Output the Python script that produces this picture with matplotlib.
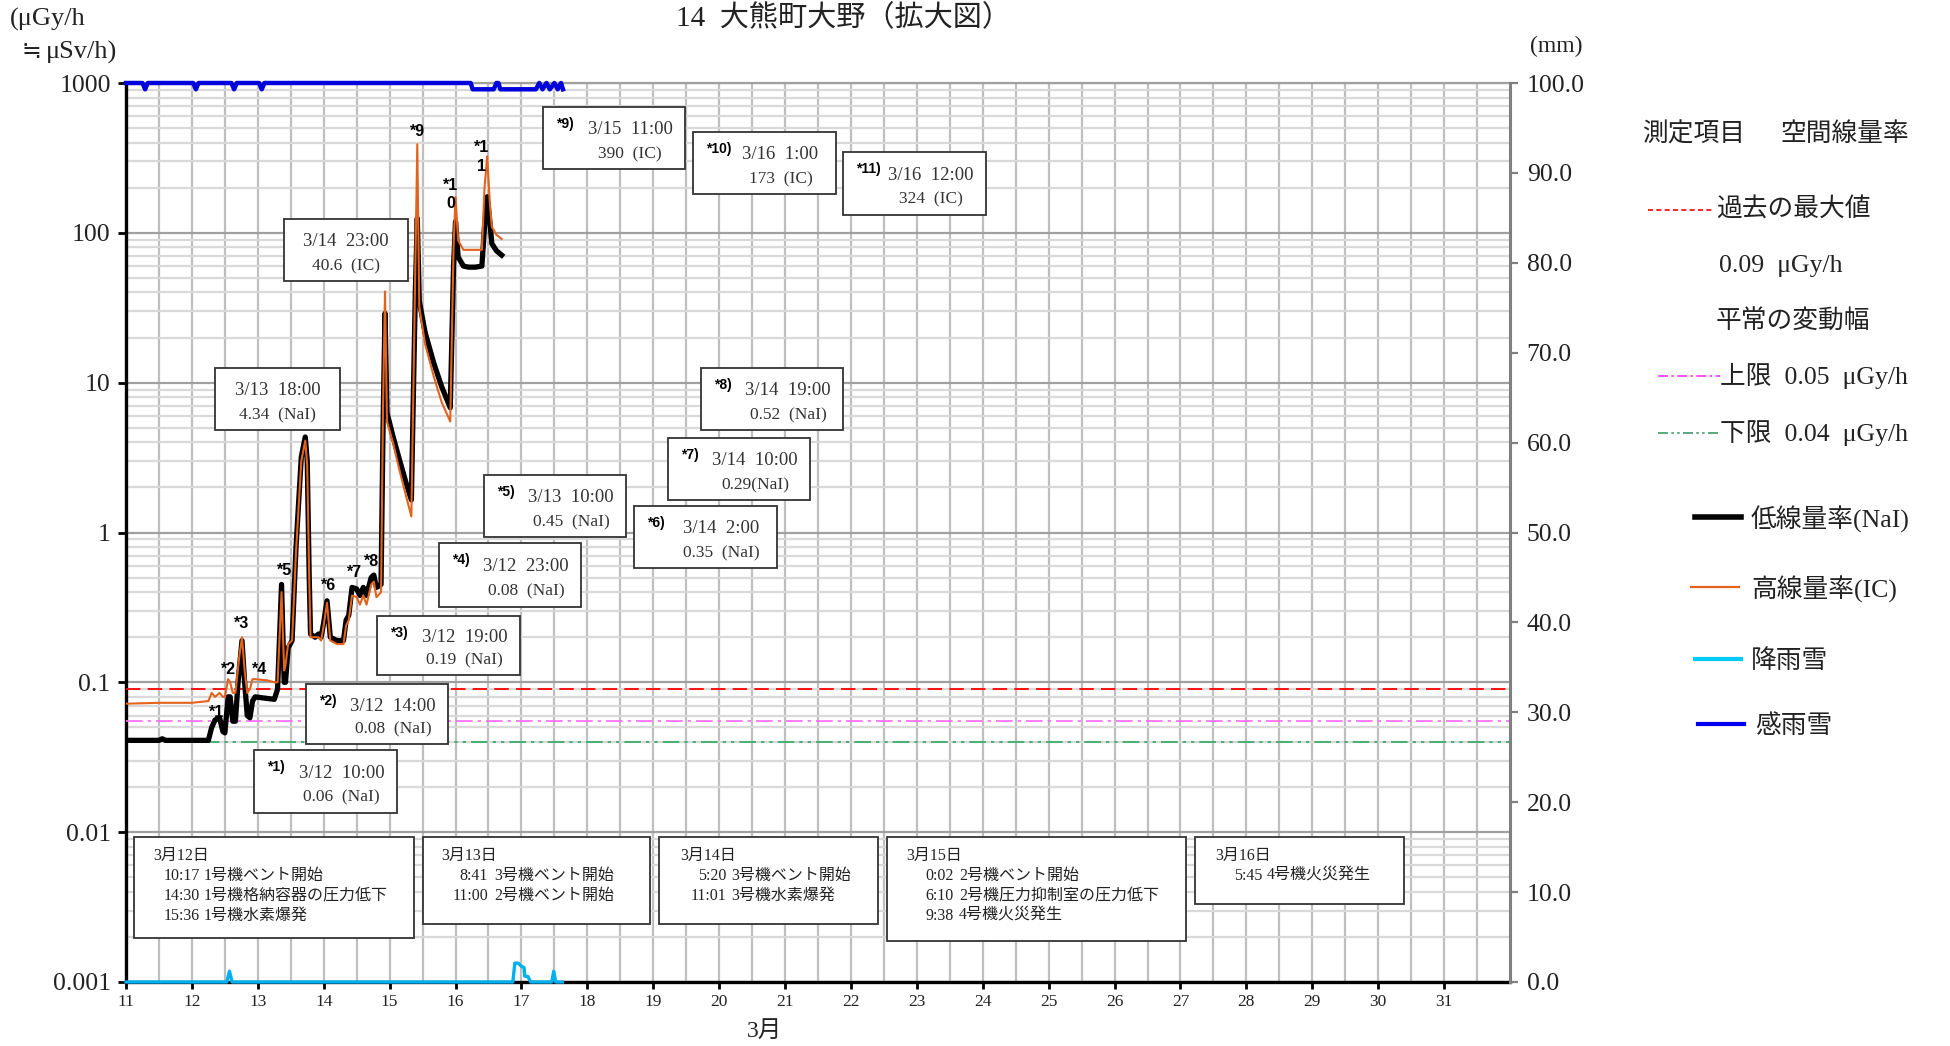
import numpy as np
import matplotlib
matplotlib.use("Agg")
import matplotlib.pyplot as plt
from matplotlib.patches import Rectangle
from matplotlib.lines import Line2D
from matplotlib.ticker import LogLocator, NullFormatter

plt.rcParams['font.family'] = ['Liberation Serif', 'Noto Sans CJK JP']
plt.rcParams['axes.unicode_minus'] = False

W, H = 1950, 1046

# ---- data (day of March) ----
nai_t = [11.0, 11.5, 11.55, 11.6, 12.25, 12.3, 12.35, 12.42, 12.47, 12.5, 12.55, 12.58,
         12.62, 12.66, 12.7, 12.76, 12.8, 12.84, 12.88, 12.92, 12.96, 13.05, 13.15, 13.25,
         13.3, 13.36, 13.4, 13.42, 13.46, 13.52, 13.58, 13.66, 13.72, 13.75, 13.78, 13.8,
         13.87, 13.92, 13.96, 14.0, 14.05, 14.1, 14.2, 14.3, 14.34, 14.38, 14.43, 14.5,
         14.55, 14.6, 14.65, 14.72, 14.76, 14.8, 14.87, 14.9, 14.93, 14.96, 15.05, 15.15,
         15.25, 15.33, 15.39, 15.42, 15.45, 15.54, 15.67, 15.79, 15.92, 15.97, 16.0, 16.04,
         16.12, 16.2, 16.3, 16.4, 16.44, 16.48, 16.52, 16.55, 16.62, 16.7]
nai_v = [0.041, 0.041, 0.042, 0.041, 0.041, 0.05, 0.056, 0.058, 0.047, 0.046, 0.08, 0.08,
         0.055, 0.055, 0.1, 0.19, 0.1, 0.06, 0.058, 0.075, 0.08, 0.079, 0.078, 0.077,
         0.09, 0.45, 0.1, 0.1, 0.17, 0.19, 0.8, 3.2, 4.34, 3.0, 0.5, 0.21,
         0.2, 0.21, 0.2, 0.25, 0.35, 0.2, 0.19, 0.19, 0.26, 0.28, 0.43, 0.42,
         0.38, 0.43, 0.38, 0.5, 0.52, 0.43, 0.45, 5.0, 29.0, 6.3, 4.4, 3.05,
         2.14, 1.65, 40.0, 125.0, 35.0, 21.5, 13.5, 9.4, 6.8, 60.0, 119.0, 69.0,
         60.0, 59.0, 59.0, 60.0, 110.0, 174.0, 120.0, 85.0, 76.0, 71.0]

ic_t = [11.0, 11.5, 12.0, 12.25, 12.3, 12.35, 12.42, 12.47, 12.5, 12.55, 12.58, 12.62,
        12.66, 12.72, 12.76, 12.8, 12.84, 12.88, 12.92, 12.96, 13.05, 13.15, 13.25, 13.3,
        13.36, 13.4, 13.42, 13.46, 13.52, 13.58, 13.66, 13.72, 13.75, 13.78, 13.8, 13.87,
        13.92, 13.96, 14.0, 14.05, 14.1, 14.2, 14.3, 14.34, 14.38, 14.43, 14.5, 14.55,
        14.6, 14.65, 14.72, 14.76, 14.8, 14.87, 14.9, 14.93, 14.96, 15.05, 15.15, 15.25,
        15.33, 15.39, 15.42, 15.45, 15.54, 15.67, 15.79, 15.92, 15.97, 16.0, 16.04, 16.12,
        16.2, 16.3, 16.4, 16.44, 16.48, 16.52, 16.55, 16.62, 16.7]
ic_v = [0.072, 0.073, 0.073, 0.075, 0.085, 0.08, 0.085, 0.08, 0.08, 0.105, 0.1, 0.085,
        0.085, 0.15, 0.2, 0.12, 0.085, 0.09, 0.105, 0.105, 0.104, 0.103, 0.1, 0.1,
        0.4, 0.12, 0.13, 0.18, 0.19, 0.75, 3.0, 4.1, 2.8, 0.5, 0.2, 0.2,
        0.2, 0.19, 0.24, 0.34, 0.19, 0.18, 0.18, 0.24, 0.26, 0.38, 0.37, 0.33,
        0.38, 0.33, 0.45, 0.47, 0.37, 0.4, 7.0, 40.6, 5.5, 4.0, 2.6, 1.75,
        1.28, 60.0, 390.0, 32.0, 18.0, 11.0, 7.4, 5.5, 80.0, 173.0, 89.0, 77.0,
        77.0, 77.0, 77.0, 200.0, 324.0, 160.0, 110.0, 97.0, 91.0]

rain_t = [11.0, 12.53, 12.57, 12.61, 16.87, 16.9, 16.95, 17.0, 17.04, 17.05, 17.1, 17.14,
          17.46, 17.49, 17.52, 17.62]
rain_mm = [0, 0, 1.2, 0, 0, 2.1, 2.1, 1.75, 1.6, 0.65, 0.6, 0,
           0, 1.2, 0, 0]

sense_t = [11.0, 11.25, 11.29, 11.33, 12.02, 12.06, 12.1, 12.6, 12.64, 12.68, 13.02, 13.06,
           13.1, 16.23, 16.26, 16.58, 16.62, 16.65, 16.68, 17.22, 17.27, 17.32, 17.38,
           17.43, 17.5, 17.55, 17.6, 17.63]
sense_mm = [100, 100, 99.3, 100, 100, 99.3, 100, 100, 99.3, 100, 100, 99.3,
            100, 100, 99.3, 99.3, 100, 100, 99.3, 99.3, 100, 99.3, 100,
            99.3, 100, 99.3, 100, 99.3]

past_max = 0.09
normal_upper = 0.055
normal_lower = 0.04

days = list(range(11, 32))
log_ticks = [0.001, 0.01, 0.1, 1, 10, 100, 1000]
log_labels = ['0.001', '0.01', '0.1', '1', '10', '100', '1000']
mm_ticks = list(range(0, 101, 10))

star_marks = [('*1', 12.37, 0.063), ('*2', 12.56, 0.121), ('*3', 12.76, 0.246),
              ('*4', 13.02, 0.121), ('*5', 13.40, 0.555), ('*6', 14.07, 0.44),
              ('*7', 14.46, 0.54), ('*8', 14.72, 0.64), ('*9', 15.42, 478),
              ('*1\n0', 15.93, 180), ('*1\n1', 16.39, 320)]

value_boxes = [
    ('*1)', '3/12  10:00', '0.06  (NaI)', (254, 750, 397, 813)),
    ('*2)', '3/12  14:00', '0.08  (NaI)', (306, 684, 448, 744)),
    ('*3)', '3/12  19:00', '0.19  (NaI)', (377, 616, 520, 675)),
    ('*4)', '3/12  23:00', '0.08  (NaI)', (439, 543, 581, 607)),
    ('*5)', '3/13  10:00', '0.45  (NaI)', (484, 475, 626, 537)),
    ('*6)', '3/14  2:00', '0.35  (NaI)', (634, 506, 777, 568)),
    ('*7)', '3/14  10:00', '0.29(NaI)', (668, 438, 810, 500)),
    ('*8)', '3/14  19:00', '0.52  (NaI)', (701, 368, 843, 430)),
    ('', '3/13  18:00', '4.34  (NaI)', (215, 368, 340, 430)),
    ('', '3/14  23:00', '40.6  (IC)', (284, 219, 408, 281)),
    ('*9)', '3/15  11:00', '390  (IC)', (543, 107, 685, 169)),
    ('*10)', '3/16  1:00', '173  (IC)', (693, 132, 836, 194)),
    ('*11)', '3/16  12:00', '324  (IC)', (843, 152, 986, 215)),
]

events = [
    ('3月12日', [('10:17', '1号機ベント開始'), ('14:30', '1号機格納容器の圧力低下'), ('15:36', '1号機水素爆発')],
     (134, 837, 414, 938), 153, 200, 204),
    ('3月13日', [('8:41', '3号機ベント開始'), ('11:00', '2号機ベント開始')],
     (423, 837, 650, 924), 441, 488, 494),
    ('3月14日', [('5:20', '3号機ベント開始'), ('11:01', '3号機水素爆発')],
     (659, 837, 878, 924), 680, 726, 731),
    ('3月15日', [('0:02', '2号機ベント開始'), ('6:10', '2号機圧力抑制室の圧力低下'), ('9:38', '4号機火災発生')],
     (887, 837, 1186, 941), 906, 954, 959),
    ('3月16日', [('5:45', '4号機火災発生')],
     (1195, 837, 1404, 904), 1215, 1262, 1267),
]


def fx(x):
    return x / W


def fy(y):
    return 1 - y / H


TXT = '#222222'

fig = plt.figure(figsize=(W / 100, H / 100), dpi=100)
ax = fig.add_axes([126 / W, 1 - 982 / H, 1384 / W, 899 / H])

# --- left axis: dose rate (log) ---
ax.set_yscale('log')
ax.set_ylim(0.001, 1000)
ax.set_xlim(11, 32)
ax.set_yticks(log_ticks)
ax.set_yticklabels(log_labels)
ax.yaxis.set_minor_locator(LogLocator(base=10, subs=np.arange(2, 10), numticks=20))
ax.yaxis.set_minor_formatter(NullFormatter())
ax.set_xticks(days)
ax.set_xticklabels([str(d) for d in days])
ax.set_xticks(np.arange(11.5, 32, 1.0), minor=True)
ax.grid(which='major', axis='x', color='#BFBFBF', lw=1.6)
ax.grid(which='minor', axis='x', color='#BFBFBF', lw=1.6)
ax.grid(which='major', axis='y', color='#A0A0A0', lw=1.6)
ax.grid(which='minor', axis='y', color='#D9D9D9', lw=1.6)
ax.set_axisbelow(True)
ax.tick_params(axis='y', which='major', direction='out', length=6, width=2, labelsize=18.5,
               labelcolor=TXT, pad=5)
ax.tick_params(axis='both', which='minor', length=0)
ax.tick_params(axis='x', which='major', direction='out', length=5, width=2, labelsize=12.5,
               labelcolor=TXT, pad=4)
ax.spines['left'].set_linewidth(2.4)
ax.spines['bottom'].set_linewidth(2.4)
ax.spines['top'].set_color('#A0A0A0')
ax.spines['top'].set_linewidth(1.6)
ax.spines['right'].set_visible(False)

ax.axhline(past_max, color='#FF0000', lw=1.3, dashes=(8, 4), zorder=3)
ax.axhline(normal_upper, color='#FF66FF', lw=1.2, dashes=(10, 3, 2, 3), zorder=3)
ax.axhline(normal_lower, color='#2EA862', lw=1.2, dashes=(10, 3, 2, 3, 2, 3), zorder=3)

ax.plot(nai_t, nai_v, color='black', lw=3.8, solid_joinstyle='round', zorder=4)
ax.plot(ic_t, ic_v, color='#E3621C', lw=1.5, zorder=5)

for lab, t, v in star_marks:
    ax.text(t, v, lab, ha='center', va='center', fontsize=11.5, fontweight='bold',
            family=['Liberation Sans', 'DejaVu Sans'], linespacing=1.3, zorder=6)

# --- right axis: precipitation (mm) ---
ax2 = ax.twinx()
ax2.set_ylim(0, 100)
ax2.set_yticks(mm_ticks)
ax2.set_yticklabels([f'{v:.1f}' for v in mm_ticks])
ax2.tick_params(axis='y', direction='out', length=6, width=1.6, color='#808080',
                labelsize=18.5, labelcolor=TXT, pad=6)
for s in ['left', 'top', 'bottom']:
    ax2.spines[s].set_visible(False)
ax2.spines['right'].set_color('#808080')
ax2.spines['right'].set_linewidth(2.2)
ax2.plot(rain_t, rain_mm, color='#00B0F0', lw=2.4, clip_on=False, zorder=4)
ax2.plot(sense_t, sense_mm, color='#0000DD', lw=3.2, clip_on=False, zorder=4)

# --- titles / axis labels ---
fig.text(fx(843), fy(18), '14  大熊町大野（拡大図）', ha='center', va='center', fontsize=21, color=TXT)
fig.text(fx(10), fy(19), '(μGy/h', ha='left', va='center', fontsize=19, color=TXT)
fig.text(fx(21), fy(52), '≒', ha='left', va='center', fontsize=17, color=TXT,
         family=['Noto Sans CJK JP', 'DejaVu Sans'])
fig.text(fx(46), fy(52), 'μSv/h)', ha='left', va='center', fontsize=19, color=TXT)
fig.text(fx(1530), fy(46), '(mm)', ha='left', va='center', fontsize=17, color=TXT)
fig.text(fx(765), fy(1031), '3月', ha='center', va='center', fontsize=17, color=TXT)

# --- value boxes ---
for star, l1, l2, (x0, y0, x1, y1) in value_boxes:
    fig.add_artist(Rectangle((fx(x0), fy(y1)), fx(x1) - fx(x0), fy(y0) - fy(y1),
                             transform=fig.transFigure, facecolor='white',
                             edgecolor='#333333', lw=1.3, zorder=5))
    cx = (x0 + x1) / 2 + (16 if star else 0)
    h = y1 - y0
    fig.text(fx(cx), fy(y0 + 0.37 * h), l1, ha='center', va='center', fontsize=13.5,
             color='#333333', zorder=6)
    fig.text(fx(cx), fy(y0 + 0.76 * h), l2, ha='center', va='center', fontsize=12.5,
             color='#333333', zorder=6)
    if star:
        fig.text(fx(x0 + 13), fy(y0 + 17), star, ha='left', va='center', fontsize=10,
                 fontweight='bold', family=['Liberation Sans', 'DejaVu Sans'], zorder=6)

# --- event boxes ---
for title, rows, (x0, y0, x1, y1), xt, xr, xd in events:
    fig.add_artist(Rectangle((fx(x0), fy(y1)), fx(x1) - fx(x0), fy(y0) - fy(y1),
                             transform=fig.transFigure, facecolor='white',
                             edgecolor='#333333', lw=1.3, zorder=5))
    fig.text(fx(xt), fy(856), title, ha='left', va='center', fontsize=11.5, color=TXT, zorder=6)
    for i, (tm, desc) in enumerate(rows):
        yy = 876 + 20 * i
        fig.text(fx(xr), fy(yy), tm, ha='right', va='center', fontsize=11.5, color=TXT, zorder=6)
        fig.text(fx(xd), fy(yy), desc, ha='left', va='center', fontsize=11.5, color=TXT, zorder=6)

# --- legend (right side) ---
LEG = 18.5
fig.text(fx(1642), fy(134), '測定項目', ha='left', va='center', fontsize=LEG, color=TXT)
fig.text(fx(1781), fy(134), '空間線量率', ha='left', va='center', fontsize=LEG, color=TXT)


def leg_line(x0, x1, y, **kw):
    fig.add_artist(Line2D([fx(x0), fx(x1)], [fy(y), fy(y)], transform=fig.transFigure, **kw))


leg_line(1648, 1714, 210, color='#FF0000', lw=1.2, dashes=(3, 2))
fig.text(fx(1716), fy(210), '過去の最大値', ha='left', va='center', fontsize=LEG, color=TXT)
fig.text(fx(1719), fy(266), '0.09  μGy/h', ha='left', va='center', fontsize=LEG, color=TXT)
fig.text(fx(1716), fy(322), '平常の変動幅', ha='left', va='center', fontsize=LEG, color=TXT)
leg_line(1658, 1720, 376, color='#FF33FF', lw=1.2, dashes=(6, 2, 1.5, 2))
fig.text(fx(1720), fy(376), '上限  0.05  μGy/h', ha='left', va='center', fontsize=LEG, color=TXT)
leg_line(1658, 1720, 433, color='#3A9A6A', lw=1.2, dashes=(6, 2, 1.5, 2, 1.5, 2))
fig.text(fx(1720), fy(433), '下限  0.04  μGy/h', ha='left', va='center', fontsize=LEG, color=TXT)

leg_line(1695, 1741, 517, color='black', lw=4)
fig.text(fx(1751), fy(519), '低線量率(NaI)', ha='left', va='center', fontsize=LEG, color=TXT)
leg_line(1691, 1739, 587, color='#E3621C', lw=1.6)
fig.text(fx(1751), fy(589), '高線量率(IC)', ha='left', va='center', fontsize=LEG, color=TXT)
leg_line(1695, 1741, 659, color='#00C8F8', lw=3)
fig.text(fx(1751), fy(661), '降雨雪', ha='left', va='center', fontsize=LEG, color=TXT)
leg_line(1698, 1744, 724, color='#0000EE', lw=3)
fig.text(fx(1755), fy(726), '感雨雪', ha='left', va='center', fontsize=LEG, color=TXT)

fig.savefig('out.png', dpi=100, facecolor='white')
